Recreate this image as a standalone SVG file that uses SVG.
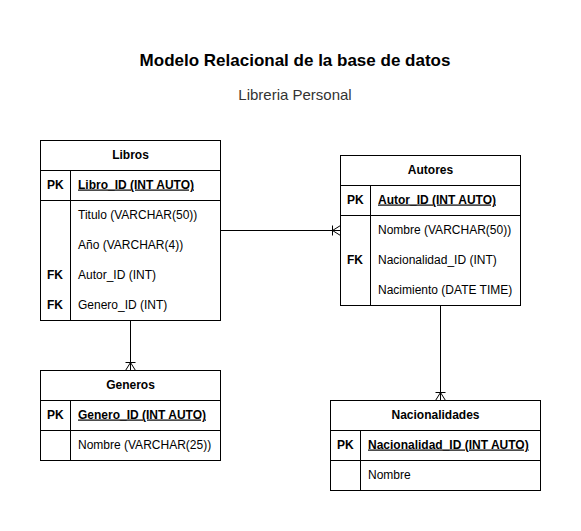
<svg xmlns="http://www.w3.org/2000/svg" width="581" height="531" viewBox="0 0 581 531">
<style>
.box{fill:#fff;stroke:#000;stroke-width:1}
.ln{stroke:#000;stroke-width:1;fill:none}
.h{font-family:"Liberation Sans",Arial,sans-serif;font-size:12px;font-weight:bold;fill:#000}
.t{font-family:"Liberation Sans",Arial,sans-serif;font-size:12px;fill:#000}
.pk{font-family:"Liberation Sans",Arial,sans-serif;font-size:12px;font-weight:bold;fill:#000;text-decoration:underline}
.c{stroke:#000;stroke-width:1;fill:none}
</style>
<rect width="581" height="531" fill="#fff"/>
<text x="295" y="66" text-anchor="middle" style="font-family:'Liberation Sans',Arial,sans-serif;font-size:17px;font-weight:bold">Modelo Relacional de la base de datos</text>
<text x="295" y="100" text-anchor="middle" style="font-family:'Liberation Sans',Arial,sans-serif;font-size:15px;fill:#333">Libreria Personal</text>

<g id="connectors">
<path class="c" d="M220.5 230.5 H340.5"/>
<path class="c" d="M340.5 225.5 L332.5 230.5 L340.5 235.5 M332.5 225.5 V235.5"/>
<path class="c" d="M130.5 320.5 V370.5"/>
<path class="c" d="M125.5 370.5 L130.5 362.5 L135.5 370.5 M125.5 362.5 H135.5"/>
<path class="c" d="M440.5 305.5 V400.5"/>
<path class="c" d="M435.5 400.5 L440.5 392.5 L445.5 400.5 M435.5 392.5 H445.5"/>
</g>

<g id="libros">
<rect class="box" x="40.5" y="140.5" width="180" height="180"/>
<path class="ln" d="M40.5 170.5 H220.5 M40.5 200.5 H220.5 M70.5 170.5 V320.5"/>
<text class="h" x="130.5" y="158.5" text-anchor="middle">Libros</text>
<text class="h" x="47" y="188.5">PK</text>
<text class="pk" x="78" y="188.5">Libro_ID (INT AUTO)</text>
<text class="t" x="78" y="218.5">Titulo (VARCHAR(50))</text>
<text class="t" x="78" y="248.5">Año (VARCHAR(4))</text>
<text class="h" x="47" y="278.5">FK</text>
<text class="t" x="78" y="278.5">Autor_ID (INT)</text>
<text class="h" x="47" y="308.5">FK</text>
<text class="t" x="78" y="308.5">Genero_ID (INT)</text>
</g>

<g id="autores">
<rect class="box" x="340.5" y="155.5" width="180" height="150"/>
<path class="ln" d="M340.5 185.5 H520.5 M340.5 215.5 H520.5 M370.5 185.5 V305.5"/>
<text class="h" x="430.5" y="173.5" text-anchor="middle">Autores</text>
<text class="h" x="347" y="203.5">PK</text>
<text class="pk" x="378" y="203.5">Autor_ID (INT AUTO)</text>
<text class="t" x="378" y="233.5">Nombre (VARCHAR(50))</text>
<text class="h" x="347" y="263.5">FK</text>
<text class="t" x="378" y="263.5">Nacionalidad_ID (INT)</text>
<text class="t" x="378" y="293.5">Nacimiento (DATE TIME)</text>
</g>

<g id="generos">
<rect class="box" x="40.5" y="370.5" width="180" height="90"/>
<path class="ln" d="M40.5 400.5 H220.5 M40.5 430.5 H220.5 M70.5 400.5 V460.5"/>
<text class="h" x="130.5" y="388.5" text-anchor="middle">Generos</text>
<text class="h" x="47" y="418.5">PK</text>
<text class="pk" x="78" y="418.5">Genero_ID (INT AUTO)</text>
<text class="t" x="78" y="448.5">Nombre (VARCHAR(25))</text>
</g>

<g id="nacionalidades">
<rect class="box" x="330.5" y="400.5" width="210" height="90"/>
<path class="ln" d="M330.5 430.5 H540.5 M330.5 460.5 H540.5 M360.5 430.5 V490.5"/>
<text class="h" x="435.5" y="418.5" text-anchor="middle">Nacionalidades</text>
<text class="h" x="337" y="448.5">PK</text>
<text class="pk" x="368" y="448.5">Nacionalidad_ID (INT AUTO)</text>
<text class="t" x="368" y="478.5">Nombre</text>
</g>
</svg>
